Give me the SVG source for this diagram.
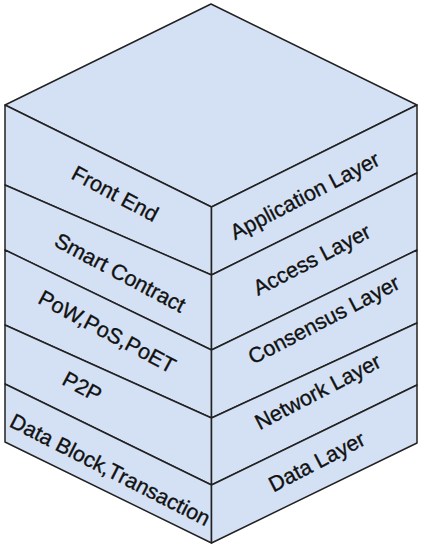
<svg xmlns="http://www.w3.org/2000/svg" width="424" height="550" viewBox="0 0 424 550">
<style>
.face{fill:#d4e1f5;stroke:#222;stroke-width:1.5;stroke-linejoin:round}
.lbl{font-family:"Liberation Sans",Arial,sans-serif;font-size:21.5px;fill:#111;stroke:#111;stroke-width:0.35;text-anchor:middle;dominant-baseline:central}
</style>
<rect width="424" height="550" fill="#ffffff"/>
<g id="top-face">
<polygon class="face" points="211,4 417,105 211.5,207 5,105"/>
</g>
<g id="front-end">
<polygon class="face" points="5,105 211.5,207 211.5,275 5,185"/>
<text class="lbl" transform="translate(115,194) rotate(28)">Front End</text>
</g>
<g id="smart-contract">
<polygon class="face" points="5,185 211.5,275 211.5,350 5,250"/>
<text class="lbl" transform="translate(120,273) rotate(28)">Smart Contract</text>
</g>
<g id="consensus-algos">
<polygon class="face" points="5,250 211.5,350 211.5,418 5,325"/>
<text class="lbl" transform="translate(107,332) rotate(28)">PoW,PoS,PoET</text>
</g>
<g id="p2p">
<polygon class="face" points="5,325 211.5,418 211.5,485 5,384"/>
<text class="lbl" transform="translate(82,387) rotate(28)">P2P</text>
</g>
<g id="data-block">
<polygon class="face" points="5,384 211.5,485 211.5,543 5,442"/>
<text class="lbl" transform="translate(110,470) rotate(27)">Data Block,Transaction</text>
</g>
<g id="application-layer">
<polygon class="face" points="211.5,207 417,105 417,173 211.5,275"/>
<text class="lbl" transform="translate(305,196) rotate(-27.5)">Application Layer</text>
</g>
<g id="access-layer">
<polygon class="face" points="211.5,275 417,173 417,250 211.5,350"/>
<text class="lbl" transform="translate(312,260) rotate(-27.5)">Access Layer</text>
</g>
<g id="consensus-layer">
<polygon class="face" points="211.5,350 417,250 417,323 211.5,418"/>
<text class="lbl" transform="translate(324,320) rotate(-27.5)">Consensus Layer</text>
</g>
<g id="network-layer">
<polygon class="face" points="211.5,418 417,323 417,385 211.5,485"/>
<text class="lbl" transform="translate(318,392) rotate(-27.5)">Network Layer</text>
</g>
<g id="data-layer">
<polygon class="face" points="211.5,485 417,385 417,443 211.5,543"/>
<text class="lbl" transform="translate(317,462) rotate(-27.5)">Data Layer</text>
</g>
<g id="connectors"></g>
</svg>
